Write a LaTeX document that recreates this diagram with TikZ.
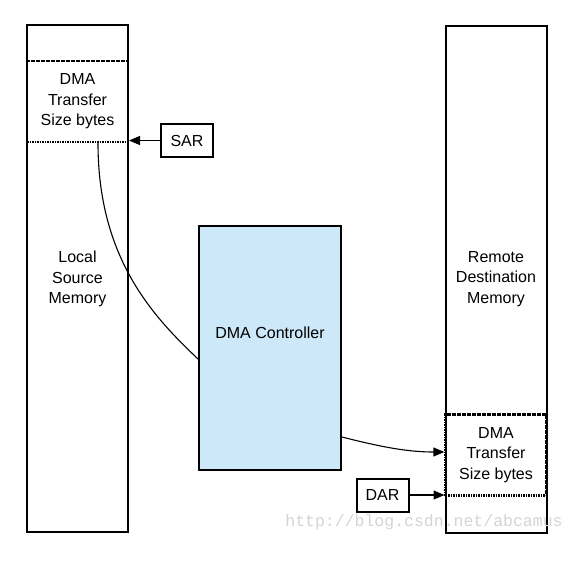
\documentclass[tikz,border=0pt]{standalone}
\usepackage{fontspec}
\setmainfont{Liberation Sans}
\newfontfamily\wmfont{Liberation Mono}
\usetikzlibrary{arrows.meta,calc}
\definecolor{ctrlblue}{HTML}{CCE8F9}
\definecolor{wmgray}{HTML}{D4D4D4}
\begin{document}
\begin{tikzpicture}[x=1pt,y=-1pt,
  every node/.style={font=\fontsize{16}{20.5}\selectfont, align=center, inner sep=0pt},
  column/.style={draw, line width=2pt, minimum width=101pt, minimum height=507pt},
  xferbox/.style={draw, line width=2.3pt, dash pattern=on 1.6pt off 0.9pt, minimum width=101pt, minimum height=81pt},
  regbox/.style={draw, line width=2pt, minimum width=52pt, minimum height=33pt},
  ctrlbox/.style={draw, line width=2pt, fill=ctrlblue, minimum width=142pt, minimum height=244pt},
  conn/.style={line width=1.1pt},
  arr/.style={conn, -{Triangle[length=11pt,width=9pt]}}]
\useasboundingbox (0,0) rectangle (581,574);
\node[xferbox] (ldma) at (77.5,101.5) {DMA\\Transfer\\Size bytes};
\node[xferbox] (rdma) at (496,455) {DMA\\Transfer\\Size bytes};
\node[column] (lcol) at (77.5,278.5) {};
\node at (77.5,279) (ltext) {Local\\Source\\Memory};
\node[column] (rcol) at (496,279) {};
\node at (496,279) (rtext) {Remote\\Destination\\Memory};
\node[regbox] (sar) at (187,140.5) {SAR};
\node[regbox] (dar) at (382.5,495) {DAR};
\node[ctrlbox] (ctrl) at (270,348) {};
\node (ctrltext) at (270,333) {DMA Controller};
\coordinate (c1s) at ($(ldma.south)+(20.5,0)$);
\coordinate (c1e) at ($(ctrl.west)+(0,11)$);
\coordinate (c2s) at ($(ctrl.east)+(0,89)$);
\coordinate (c2e) at ($(rdma.west)+(0,-3)$);
\draw[conn] (c1s) .. controls (98,260) and (155,318) .. (c1e);
\draw[arr] (c2s) .. controls (385,448) and (410,452) .. (c2e);
\draw[arr] (sar.west) -- (sar.west -| lcol.east);
\draw[arr] (dar.east) -- (dar.east -| rcol.west);
\node[font=\wmfont\fontsize{16.5}{18}\selectfont, text=wmgray] (wm) at (424,522) {http://blog.csdn.net/abcamus};
\end{tikzpicture}
\end{document}
